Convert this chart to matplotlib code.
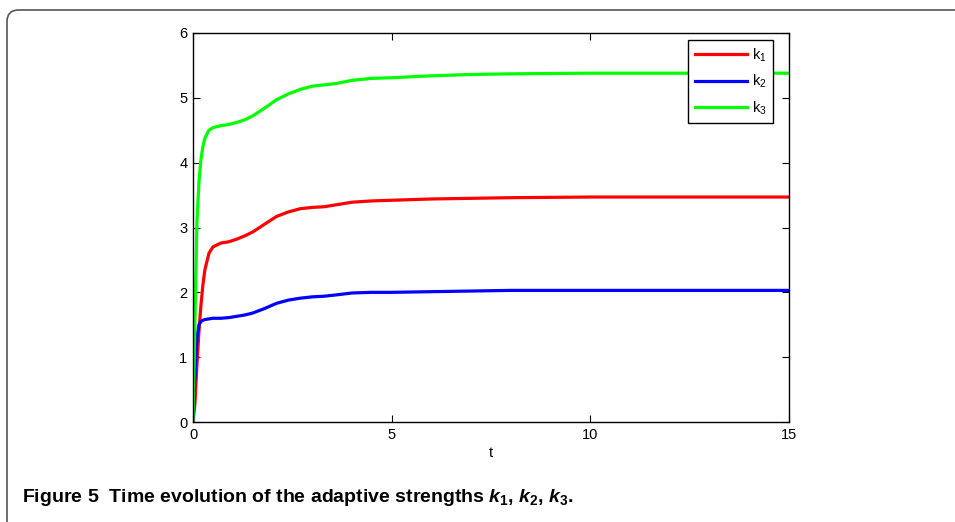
import matplotlib
matplotlib.use("Agg")
import matplotlib.pyplot as plt
from matplotlib.patches import FancyBboxPatch

plt.rcParams['font.family'] = ['Liberation Sans', 'DejaVu Sans']
plt.rcParams['mathtext.fontset'] = 'custom'
plt.rcParams['mathtext.rm'] = 'Liberation Sans:bold'
plt.rcParams['mathtext.it'] = 'Liberation Sans:italic:bold'
plt.rcParams['mathtext.bf'] = 'Liberation Sans:bold'

t = [0, 0.05, 0.1, 0.15, 0.2, 0.25, 0.3, 0.4, 0.5, 0.7, 0.9, 1.1, 1.3, 1.5, 1.8,
     2.1, 2.4, 2.7, 3.0, 3.3, 3.6, 4.0, 4.5, 5, 6, 7, 8, 10, 12, 15]
k1 = [0, 0.3, 0.9, 1.4, 1.8, 2.12, 2.35, 2.6, 2.7, 2.76, 2.78, 2.82, 2.87, 2.93, 3.05,
      3.17, 3.24, 3.29, 3.31, 3.32, 3.35, 3.39, 3.41, 3.42, 3.44, 3.45, 3.46, 3.47, 3.47, 3.47]
k2 = [0, 0.7, 1.3, 1.5, 1.55, 1.57, 1.58, 1.59, 1.6, 1.6, 1.61, 1.63, 1.65, 1.68, 1.75,
      1.83, 1.88, 1.91, 1.93, 1.94, 1.96, 1.99, 2.0, 2.0, 2.01, 2.02, 2.03, 2.03, 2.03, 2.03]
k3 = [0, 1.6, 3.1, 3.7, 4.05, 4.25, 4.38, 4.5, 4.54, 4.57, 4.59, 4.62, 4.66, 4.72, 4.84,
      4.97, 5.06, 5.13, 5.18, 5.2, 5.22, 5.27, 5.3, 5.31, 5.34, 5.36, 5.37, 5.38, 5.38, 5.38]
labels = [r'k$\mathregular{_1}$', r'k$\mathregular{_2}$', r'k$\mathregular{_3}$']
colors = ['#ff0000', '#0000ff', '#00ff00']
xticks = [0, 5, 10, 15]
yticks = [0, 1, 2, 3, 4, 5, 6]

fig = plt.figure(figsize=(9.55, 5.22), dpi=100)

# outer rounded frame
frame = FancyBboxPatch((7 / 955, -0.2), 1.2, 1.2 - 10 / 522,
                       boxstyle="round,pad=0,rounding_size=0.012",
                       transform=fig.transFigure, fill=False,
                       edgecolor='#555555', lw=1.2, mutation_aspect=955 / 522)
fig.patches.append(frame)

ax = fig.add_axes([193 / 955, 1 - 422 / 522, 596 / 955, 389 / 522])
for y, c, lab in zip([k1, k2, k3], colors, labels):
    ax.plot(t, y, color=c, lw=2.3, label=lab)

ax.set_xlim(0, 15)
ax.set_ylim(0, 6)
ax.set_xticks(xticks)
ax.set_yticks(yticks)
ax.tick_params(direction='in', top=True, right=True, length=5, width=0.8,
               labelsize=10.5, pad=4)
for s in ax.spines.values():
    s.set_linewidth(1.0)
ax.set_xlabel('t', fontsize=10.5, labelpad=3)

leg = ax.legend(loc='upper right', bbox_to_anchor=(1 - 16 / 596, 1 - 7 / 389), fontsize=10.5,
                fancybox=False, edgecolor='black', framealpha=1,
                handlelength=3.6, handletextpad=0.3, borderpad=0.45,
                labelspacing=0.62, borderaxespad=0)
leg.get_frame().set_linewidth(1.0)

fig.text(22 / 955, 1 - 497 / 522,
         r'Figure 5  Time evolution of the adaptive strengths $k_1$, $k_2$, $k_3$.',
         fontsize=14, fontweight='bold', family='Liberation Sans', va='center', ha='left')

fig.savefig('out.png', dpi=100)
